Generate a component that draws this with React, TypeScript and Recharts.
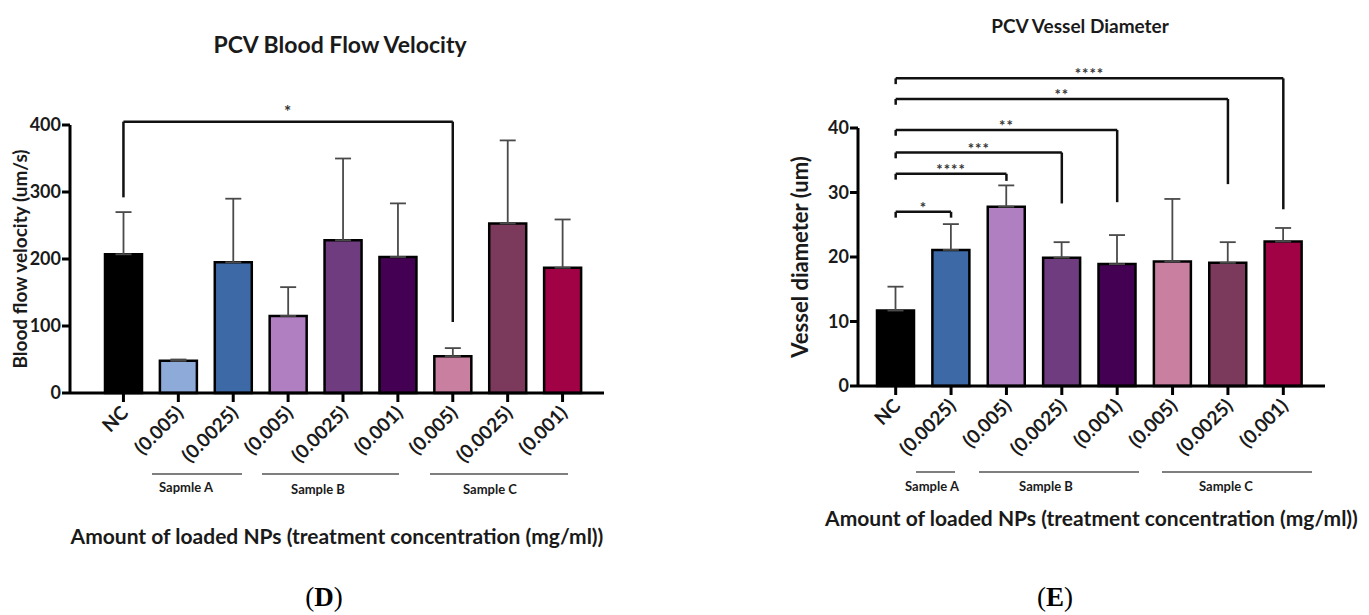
import React from 'react';
import { BarChart, Bar, XAxis, YAxis, ErrorBar, Cell, ReferenceLine } from 'recharts';

const FONT = 'Lato, "Open Sans", "DejaVu Sans", sans-serif';

// ---- Panel D: PCV Blood Flow Velocity ----
const velocityIds = ['NC', 'A1', 'A2', 'B1', 'B2', 'B3', 'C1', 'C2', 'C3'];
const velocityTicks = ['NC', '(0.005)', '(0.0025)', '(0.005)', '(0.0025)', '(0.001)', '(0.005)', '(0.0025)', '(0.001)'];
const velocityMeans = [207, 48, 195, 115, 228, 203, 55, 253, 187];
const velocitySd = [63, 2, 95, 43, 122, 80, 12, 124, 72];
const velocityColors = ['#000000', '#8eaad9', '#3d6aa6', '#b07fc1', '#6f3c80', '#440052', '#c87fa0', '#7b3a5b', '#a10246'];
const velocityYTicks = [0, 100, 200, 300, 400];
const velocityBrackets = [
  { from: 'NC', to: 'C1', y: 405, fromEnd: 292, toEnd: 106, mark: '*' },
];

// ---- Panel E: PCV Vessel Diameter ----
const diameterIds = ['NC', 'A2', 'B1', 'B2', 'B3', 'C1', 'C2', 'C3'];
const diameterTicks = ['NC', '(0.0025)', '(0.005)', '(0.0025)', '(0.001)', '(0.005)', '(0.0025)', '(0.001)'];
const diameterMeans = [11.7, 21.1, 27.8, 19.9, 18.9, 19.3, 19.1, 22.4];
const diameterSd = [3.7, 4.0, 3.3, 2.4, 4.5, 9.7, 3.2, 2.1];
const diameterColors = ['#000000', '#3d6aa6', '#b07fc1', '#6f3c80', '#440052', '#c87fa0', '#7b3a5b', '#a10246'];
const diameterYTicks = [0, 10, 20, 30, 40];
const diameterBrackets = [
  { from: 'NC', to: 'A2', y: 27.0, fromEnd: 26.1, toEnd: 26.1, mark: '*' },
  { from: 'NC', to: 'B1', y: 32.9, fromEnd: 32.0, toEnd: 31.8, mark: '****' },
  { from: 'NC', to: 'B2', y: 36.2, fromEnd: 35.3, toEnd: 28.3, mark: '***' },
  { from: 'NC', to: 'B3', y: 39.7, fromEnd: 38.8, toEnd: 28.5, mark: '**' },
  { from: 'NC', to: 'C2', y: 44.5, fromEnd: 43.6, toEnd: 31.3, mark: '**' },
  { from: 'NC', to: 'C3', y: 47.7, fromEnd: 46.8, toEnd: 27.4, mark: '****' },
];

const xAxisTitle = 'Amount of loaded NPs (treatment concentration (mg/ml))';

function buildData(ids: string[], means: number[], sd: number[]) {
  return ids.map((id, i) => ({ id, mean: means[i], err: [0, sd[i]] }));
}

const RotTick = (props: any) => {
  const { x, y, payload, labels, ids } = props;
  const idx = ids.indexOf(payload.value);
  return (
    <g transform={`translate(${x + 6},${y + 10})`}>
      <text x={0} y={0} textAnchor="end" transform="rotate(-45)" fontFamily={FONT} fontWeight={700} fontSize={19} fill="#1a1a1a">
        {labels[idx]}
      </text>
    </g>
  );
};

const makeMark = (mark: string, size: number, dy: number) => (p: any) => {
  const vb = p.viewBox || {};
  const cx = (vb.x || 0) + (vb.width || 0) / 2;
  return (
    <text x={cx} y={(vb.y || 0) + dy} textAnchor="middle" fontFamily={FONT} fontWeight={700} fontSize={size} fill="#333" letterSpacing={1}>
      {mark}
    </text>
  );
};

function Panel(props: any) {
  const { data, ids, labels, colors, brackets, domain, yTicks, yLabel, yLabelSize, width, height, margin, padding, yWidth, markSize, markDy, yLabelOffset, xLabelOffset } = props;
  const lineProps = { stroke: '#111', strokeWidth: 2.5, ifOverflow: 'visible' as const };
  return (
    <BarChart width={width} height={height} data={data} margin={margin} barSize={37}>
      <XAxis
        dataKey="id"
        interval={0}
        padding={padding}
        height={90}
        axisLine={{ stroke: '#000', strokeWidth: 3 }}
        tickLine={{ stroke: '#000', strokeWidth: 3 }}
        tickSize={9}
        tick={<RotTick labels={labels} ids={ids} />}
        label={{ value: xAxisTitle, position: 'bottom', offset: xLabelOffset, fill: '#1a1a1a', fontSize: 21, fontWeight: 700, fontFamily: FONT }}
      />
      <YAxis
        domain={domain}
        ticks={yTicks}
        width={yWidth}
        interval={0}
        axisLine={{ stroke: '#000', strokeWidth: 3 }}
        tickLine={{ stroke: '#000', strokeWidth: 3 }}
        tickSize={8}
        tickMargin={1}
        tick={{ fill: '#1a1a1a', fontSize: 18, fontWeight: 700, fontFamily: FONT }}
        label={{ value: yLabel, angle: -90, position: 'insideLeft', offset: yLabelOffset, fill: '#1a1a1a', fontSize: yLabelSize, fontWeight: 700, fontFamily: FONT, style: { textAnchor: 'middle' } }}
      />
      <Bar dataKey="mean" stroke="#000" strokeWidth={2.5} isAnimationActive={false}>
        {data.map((d: any, i: number) => (
          <Cell key={d.id} fill={colors[i]} />
        ))}
        <ErrorBar dataKey="err" width={8} stroke="#4a4a4a" strokeWidth={1.8} direction="y" />
      </Bar>
      {brackets.flatMap((b: any, i: number) => [
        <ReferenceLine
          key={`h${i}`}
          segment={[{ x: b.from, y: b.y }, { x: b.to, y: b.y }]}
          {...lineProps}
          label={{ content: makeMark(b.mark, markSize, markDy) }}
        />,
        <ReferenceLine key={`l${i}`} segment={[{ x: b.from, y: b.y }, { x: b.from, y: b.fromEnd }]} {...lineProps} />,
        <ReferenceLine key={`r${i}`} segment={[{ x: b.to, y: b.y }, { x: b.to, y: b.toEnd }]} {...lineProps} />,
      ])}
    </BarChart>
  );
}

const groupText = { fontFamily: FONT, fontWeight: 700, fontSize: 13, fill: '#1a1a1a' } as const;

export default function App() {
  const velocityData = buildData(velocityIds, velocityMeans, velocitySd);
  const diameterData = buildData(diameterIds, diameterMeans, diameterSd);
  return (
    <div style={{ position: 'absolute', left: 0, top: 0, width: 1369, height: 615, background: '#fff', overflow: 'hidden' }}>
      <div style={{ position: 'absolute', left: 0, top: 0 }}>
        <Panel
          data={velocityData}
          ids={velocityIds}
          labels={velocityTicks}
          colors={velocityColors}
          brackets={velocityBrackets}
          domain={[0, 400]}
          yTicks={velocityYTicks}
          yLabel="Blood flow velocity (um/s)"
          yLabelSize={19}
          width={640}
          height={570}
          margin={{ top: 125, right: 36, bottom: 87, left: 10 }}
          padding={{ left: 26, right: 14 }}
          yWidth={60}
          markSize={17}
          markDy={-4}
          yLabelOffset={10}
          xLabelOffset={46}
        />
      </div>
      <div style={{ position: 'absolute', left: 780, top: 0 }}>
        <Panel
          data={diameterData}
          ids={diameterIds}
          labels={diameterTicks}
          colors={diameterColors}
          brackets={diameterBrackets}
          domain={[0, 40]}
          yTicks={diameterYTicks}
          yLabel="Vessel diameter (um)"
          yLabelSize={22}
          width={589}
          height={570}
          margin={{ top: 128, right: 44, bottom: 94, left: 18 }}
          padding={{ left: 10, right: 14 }}
          yWidth={60}
          markSize={15}
          markDy={1}
          yLabelOffset={2}
          xLabelOffset={35}
        />
      </div>
      <div style={{ position: 'absolute', left: 90, width: 500, top: 30, textAlign: 'center', fontFamily: FONT, fontWeight: 700, fontSize: 23, color: '#1a1a1a' }}>
        PCV Blood Flow Velocity
      </div>
      <div style={{ position: 'absolute', left: 880, width: 400, top: 14, textAlign: 'center', fontFamily: FONT, fontWeight: 700, fontSize: 19, color: '#1a1a1a' }}>
        PCV Vessel Diameter
      </div>
      <svg width={1369} height={615} style={{ position: 'absolute', left: 0, top: 0, pointerEvents: 'none' }}>
        <g stroke="#555" strokeWidth={1.3}>
          <line x1={152} y1={474} x2={242} y2={474} />
          <line x1={262} y1={474} x2={399} y2={474} />
          <line x1={430} y1={474} x2={568} y2={474} />
          <line x1={916} y1={472} x2={955} y2={472} />
          <line x1={979} y1={472} x2={1139} y2={472} />
          <line x1={1162} y1={472} x2={1312} y2={472} />
        </g>
        <text x={186} y={492} textAnchor="middle" {...groupText}>Sapmle A</text>
        <text x={318} y={494} textAnchor="middle" {...groupText}>Sample B</text>
        <text x={490} y={494} textAnchor="middle" {...groupText}>Sample C</text>
        <text x={932} y={491} textAnchor="middle" {...groupText}>Sample A</text>
        <text x={1046} y={491} textAnchor="middle" {...groupText}>Sample B</text>
        <text x={1226} y={491} textAnchor="middle" {...groupText}>Sample C</text>
        <text x={324} y={606} textAnchor="middle" fontFamily='"Liberation Serif", serif' fontSize={27} fill="#000">
          (<tspan fontWeight={700}>D</tspan>)
        </text>
        <text x={1055} y={606} textAnchor="middle" fontFamily='"Liberation Serif", serif' fontSize={27} fill="#000">
          (<tspan fontWeight={700}>E</tspan>)
        </text>
      </svg>
    </div>
  );
}
